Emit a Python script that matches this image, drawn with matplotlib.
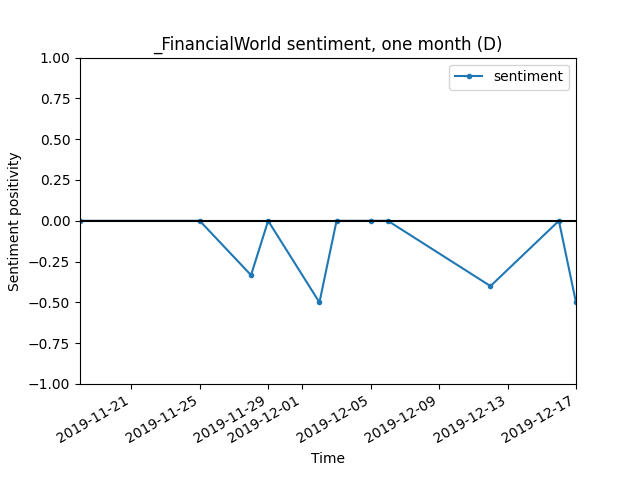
import matplotlib
matplotlib.use("Agg")
import matplotlib.pyplot as plt
import pandas as pd

dates = ["2019-11-18", "2019-11-25", "2019-11-28", "2019-11-29", "2019-12-02", "2019-12-03",
         "2019-12-05", "2019-12-06", "2019-12-12", "2019-12-16", "2019-12-17"]
sentiment = [0.0, 0.0, -0.333, 0.0, -0.5, 0.0, 0.0, 0.0, -0.4, 0.0, -0.5]

df = pd.DataFrame({"sentiment": sentiment}, index=pd.to_datetime(dates))

fig, ax = plt.subplots(figsize=(6.4, 4.8), dpi=100)
ax.plot(df.index, df["sentiment"], marker=".", label="sentiment")
ax.axhline(0, color="black")
ax.set_ylim(-1, 1)
ax.set_xlim(pd.Timestamp("2019-11-18"), pd.Timestamp("2019-12-17"))
ticks = pd.to_datetime(["2019-11-21", "2019-11-25", "2019-11-29", "2019-12-01", "2019-12-05",
                        "2019-12-09", "2019-12-13", "2019-12-17"])
ax.set_xticks(ticks)
ax.set_xticklabels([t.strftime("%Y-%m-%d") for t in ticks])
fig.autofmt_xdate()
ax.set_title("_FinancialWorld sentiment, one month (D)")
ax.set_xlabel("Time")
ax.set_ylabel("Sentiment positivity")
ax.legend(loc="upper right")
fig.savefig("out.png")
